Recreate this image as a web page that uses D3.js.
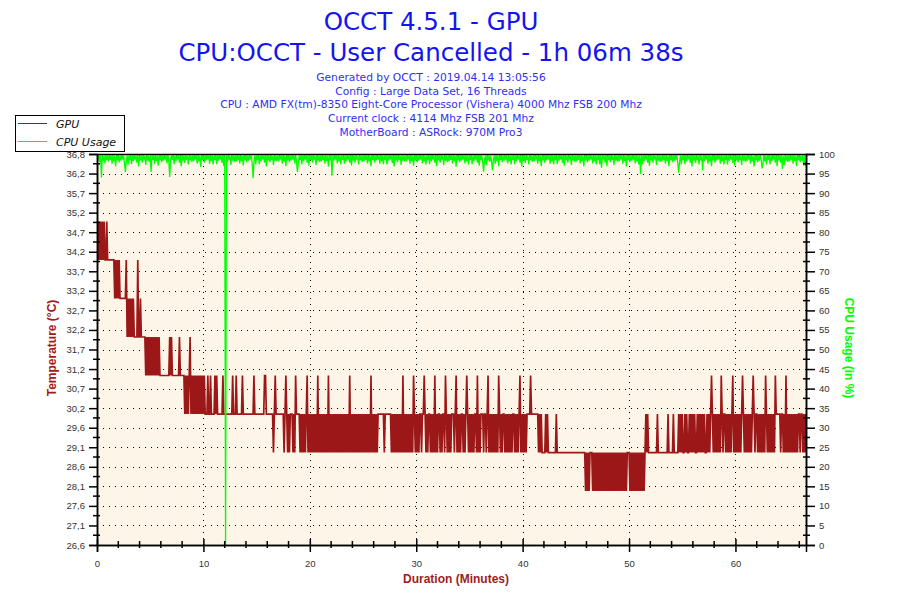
<!DOCTYPE html>
<html>
<head>
<meta charset="utf-8">
<script src="https://cdn.jsdelivr.net/npm/d3@7"></script>
<style>
body { margin: 0; background: #fff; }
svg { display: block; }
</style>
</head>
<body>
<svg id="chart"></svg>
<script>
var width = 900;
var height = 600;
var plotLeft = 97, plotRight = 806, plotTop = 154, plotBottom = 545;
var gpuColor = "#9c1818";
var cpuColor = "#00ff00";

var titleLines = ["OCCT 4.5.1 - GPU", "CPU:OCCT - User Cancelled - 1h 06m 38s"];
var infoLines = [
    "Generated by OCCT : 2019.04.14 13:05:56",
    "Config : Large Data Set, 16 Threads",
    "CPU : AMD FX(tm)-8350 Eight-Core Processor (Vishera) 4000 Mhz FSB 200 Mhz",
    "Current clock : 4114 Mhz FSB 201 Mhz",
    "MotherBoard : ASRock: 970M Pro3"
];
var seriesNames = ["GPU", "CPU Usage"];

var durationMin = 66.63; //1h 06m 38s

var tempRange = [26.6, 36.75];
var tempTickLabels = ["26,6", "27,1", "27,6", "28,1", "28,6", "29,1", "29,6", "30,2", "30,7", "31,2", "31,7",
    "32,2", "32,7", "33,2", "33,7", "34,2", "34,7", "35,2", "35,7", "36,2", "36,8"];
var cpuTicks = [0, 5, 10, 15, 20, 25, 30, 35, 40, 45, 50, 55, 60, 65, 70, 75, 80, 85, 90, 95, 100];
var minuteTicks = [0, 10, 20, 30, 40, 50, 60];

//Both series: one value every 5 s, one row per minute.
var sampleSeconds = 5;

//GPU temperature (°C)
var gpuTemp = [
    "35 34 35 34 35 34 35 34 35 34 34 35", //0
    "34 34 34 34 34 34 34 34 33 34 33 34",
    "33 34 33 33 33 33 33 33 33 34 32 33",
    "32 33 32 33 32 33 32 32 32 32 34 32",
    "32 33 32 32 32 32 32 31 32 31 32 31",
    "32 31 32 31 32 31 32 31 32 31 32 31",
    "31 31 31 31 31 31 31 31 31 31 32 31",
    "32 31 31 31 31 31 31 31 31 32 31 31",
    "31 31 31 30 31 30 31 30 31 32 30 31",
    "30 31 30 31 30 31 30 31 30 31 30 31",
    "30 31 30 30 30 31 30 30 31 30 30 30", //10
    "30 31 30 31 30 30 30 30 30 30 31 30",
    "30 30 30 30 30 30 30 30 30 31 30 30",
    "30 31 30 30 30 30 30 30 31 30 30 30",
    "30 30 30 30 30 30 30 30 30 31 30 30",
    "30 30 30 30 30 30 30 30 30 31 31 30",
    "30 30 30 30 30 30 30 29 30 31 30 30",
    "30 30 30 30 30 30 30 29 30 31 30 29",
    "30 29 30 30 30 29 30 29 31 30 30 30",
    "30 29 30 29 30 29 30 29 30 31 29 30",
    "29 30 29 30 29 30 29 30 29 31 29 30", //20
    "29 30 29 30 29 30 29 30 29 31 29 30",
    "29 30 29 30 29 30 29 30 29 30 29 30",
    "29 30 29 30 29 30 29 30 29 31 29 30",
    "29 30 29 30 29 30 29 30 29 30 29 30",
    "29 30 29 30 29 30 29 30 29 31 29 30",
    "29 30 29 30 29 30 30 30 30 30 30 30",
    "29 30 30 30 30 30 30 30 29 30 29 30",
    "29 30 29 30 29 30 29 30 29 31 29 30",
    "29 30 29 30 29 30 29 30 29 31 30 29",
    "30 29 30 29 30 30 29 30 30 31 30 29", //30
    "30 29 30 30 29 30 29 30 29 31 29 30",
    "29 30 30 29 30 29 30 30 29 31 30 29",
    "30 29 30 29 30 30 30 29 30 31 29 30",
    "29 30 29 30 30 29 30 29 30 31 30 29",
    "30 29 30 29 30 29 30 30 29 31 29 30",
    "29 30 30 30 29 30 30 29 30 31 29 30",
    "29 30 29 30 29 30 29 30 29 31 30 29",
    "30 29 30 30 29 30 29 30 29 30 29 30",
    "29 30 30 29 30 29 30 29 30 31 29 30",
    "29 30 29 30 29 30 30 30 30 31 30 30", //40
    "30 30 30 30 30 30 29 30 29 30 29 29",
    "29 29 30 29 30 29 29 29 29 29 29 29",
    "29 29 30 29 29 29 29 29 29 29 29 29",
    "29 29 29 29 29 29 29 29 29 29 29 29",
    "29 29 29 29 29 29 29 29 29 29 29 28",
    "29 28 29 28 29 29 29 28 29 28 29 28",
    "29 28 29 28 29 28 29 28 29 28 29 28",
    "29 28 29 28 29 28 29 28 29 28 29 28",
    "29 28 29 28 29 28 29 28 29 28 29 29",
    "29 28 29 28 29 28 29 28 29 28 29 28", //50
    "29 28 29 28 29 28 29 30 29 30 29 29",
    "29 29 29 29 29 29 29 29 30 29 29 29",
    "29 29 29 29 29 29 29 29 30 29 29 29",
    "29 29 30 29 29 29 29 29 30 29 30 29",
    "30 29 29 30 29 30 29 29 30 29 30 29",
    "30 29 30 29 29 30 29 30 29 30 29 30",
    "29 30 29 29 30 29 30 29 30 31 30 29",
    "30 29 30 29 30 29 30 29 31 30 29 30",
    "30 29 30 29 30 29 30 29 30 31 29 30",
    "29 30 29 30 29 30 29 30 31 30 29 30", //60
    "29 30 29 30 29 30 29 30 31 30 29 30",
    "30 29 30 29 30 29 30 29 30 29 31 30",
    "29 30 29 30 29 30 29 30 29 31 30 30",
    "30 30 30 29 30 30 29 30 29 31 29 30",
    "29 30 29 30 29 30 29 30 29 30 29 30",
    "30 29 30 30 29 30 29 30 29"
];

//CPU usage (%)
var cpuUsage = [
    "99.2 98.6 99.7 97.9 99.6 94.0 99.7 98.3 99.6 97.6 99.7 98.4", //0
    "99.6 98.1 99.7 98.5 99.6 97.5 99.7 98.2 99.5 96.9 99.7 98.4",
    "99.7 97.9 99.6 98.3 99.7 98.6 99.6 97.6 95.4 98.1 99.6 97.3",
    "99.6 98.5 99.7 97.4 99.6 98.2 99.7 98.6 99.6 97.8 99.7 96.8",
    "99.7 98.4 99.6 97.8 99.7 98.6 99.5 97.2 99.7 98.3 99.6 98.0",
    "99.6 95.4 99.7 98.5 99.6 97.5 99.7 98.2 99.5 97.0 99.7 98.4",
    "99.7 97.9 99.6 98.3 99.7 98.6 99.6 97.6 99.7 98.1 94.1 98.7",
    "99.6 98.5 99.7 97.4 99.6 98.2 99.7 98.6 99.6 97.8 99.7 96.9",
    "99.7 98.3 99.6 97.7 99.7 98.5 99.5 97.3 99.7 98.4 99.6 98.0",
    "99.6 98.2 99.7 98.6 99.6 97.5 99.7 98.1 99.5 96.7 99.7 98.4",
    "99.7 97.8 99.6 98.4 99.7 98.6 99.6 97.5 99.7 98.2 99.6 97.3", //10
    "99.6 98.5 99.7 97.4 99.6 98.3 99.7 98.6 99.6 97.7 99.7 96.9",
    "99.7 0 99.6 97.8 99.7 98.6 99.5 97.2 99.7 98.3 99.6 98.0",
    "99.6 98.1 99.7 98.5 99.6 97.6 99.7 98.2 99.5 97.1 99.7 98.4",
    "99.7 97.9 99.6 98.3 99.7 98.6 99.6 97.6 93.8 98.1 99.6 97.3",
    "99.6 98.5 99.7 97.4 99.6 98.2 99.7 98.6 99.6 97.8 99.7 96.8",
    "99.7 98.4 99.6 97.9 99.7 98.5 99.5 97.2 99.7 98.3 99.6 98.1",
    "99.6 98.1 99.7 98.6 99.6 97.5 99.7 98.2 99.5 96.9 99.7 98.4",
    "99.7 97.9 99.6 98.3 99.7 98.6 99.6 97.6 99.7 98.1 95.4 97.3",
    "99.6 98.5 99.7 97.4 99.6 98.2 99.7 98.6 99.6 97.8 99.7 97.0",
    "99.7 98.4 99.6 97.8 99.7 98.6 99.5 97.2 99.7 98.3 99.6 98.0", //20
    "99.6 98.1 99.7 98.5 99.6 97.5 99.7 98.2 99.5 96.8 99.7 98.4",
    "99.7 94.5 99.6 98.3 99.7 98.6 99.6 97.6 99.7 98.1 99.6 97.3",
    "99.6 98.5 99.7 97.5 99.6 98.2 99.7 98.6 99.6 97.8 99.7 97.1",
    "99.7 98.3 99.6 97.8 99.7 98.6 99.5 97.3 99.7 98.4 99.6 98.0",
    "99.6 98.2 99.7 98.5 99.6 97.6 99.7 98.1 99.5 96.9 99.7 98.5",
    "99.7 97.8 99.6 98.4 99.7 98.6 99.6 97.5 99.7 98.2 99.6 97.4",
    "99.6 98.5 99.7 97.3 99.6 98.3 99.7 98.6 99.6 97.7 99.7 96.8",
    "99.7 98.4 99.6 97.9 99.7 98.5 99.5 97.2 99.7 98.3 99.6 98.1",
    "99.6 98.1 99.7 98.6 99.6 97.5 99.7 98.2 99.5 97.0 99.7 98.4",
    "99.7 97.9 99.6 98.3 99.7 98.6 99.6 97.6 99.7 98.1 99.6 97.3", //30
    "99.6 98.5 99.7 97.4 99.6 98.2 99.7 98.6 99.6 97.8 99.7 96.9",
    "99.7 98.4 99.6 97.8 99.7 98.6 99.5 97.2 99.7 98.3 99.6 98.0",
    "99.6 98.1 99.7 98.5 99.6 97.5 99.7 98.2 99.5 96.8 99.7 98.4",
    "99.7 97.9 99.6 98.3 99.7 98.6 99.6 97.6 99.7 98.1 99.6 97.3",
    "99.6 98.5 99.7 97.4 99.6 98.2 99.7 98.6 99.6 97.8 99.7 97.0",
    "99.7 98.4 99.6 97.8 95.5 98.6 99.5 97.2 99.7 98.3 99.6 98.0",
    "99.6 98.1 95.8 98.5 99.6 97.5 99.7 98.2 99.5 96.9 99.7 98.4",
    "99.7 97.9 99.6 98.3 99.7 98.6 99.6 97.6 99.7 98.1 99.6 97.3",
    "99.6 98.5 99.7 97.4 99.6 98.2 99.7 98.6 99.6 97.8 99.7 96.8",
    "99.7 98.3 99.6 97.7 99.7 98.5 99.5 97.3 99.7 98.4 99.6 98.0", //40
    "99.6 98.2 99.7 98.6 99.6 97.5 99.7 98.1 99.5 96.9 99.7 98.4",
    "99.7 97.8 99.6 98.4 99.7 98.6 99.6 97.5 99.7 98.2 99.6 97.3",
    "99.6 98.5 99.7 97.4 99.6 98.3 99.7 98.6 99.6 97.7 99.7 97.0",
    "99.7 98.4 99.6 97.8 99.7 98.6 99.5 97.2 99.7 98.3 99.6 98.0",
    "99.6 98.1 99.7 98.5 99.6 97.6 99.7 98.2 99.5 96.9 99.7 98.4",
    "99.7 97.9 99.6 98.3 99.7 98.6 99.6 97.6 99.7 98.1 99.6 97.3",
    "99.6 98.5 99.7 97.4 99.6 96.5 99.7 98.6 99.6 97.8 99.7 96.9",
    "99.7 98.4 99.6 97.9 99.7 98.5 99.5 97.2 99.7 98.3 99.6 98.1",
    "99.6 98.1 99.7 98.6 99.6 97.5 99.7 98.2 99.5 96.8 99.7 98.4",
    "99.7 97.9 99.6 98.3 99.7 98.6 99.6 97.6 99.7 98.1 99.6 97.3", //50
    "99.6 94.9 99.7 97.4 99.6 98.2 99.7 98.6 99.6 97.8 99.7 97.0",
    "99.7 98.4 99.6 97.8 99.7 98.6 99.5 97.2 99.7 98.3 99.6 98.0",
    "99.6 98.1 99.7 98.5 99.6 97.5 99.7 98.2 99.5 96.9 99.7 98.4",
    "99.7 97.9 99.6 98.3 99.7 98.6 99.6 97.6 95.2 98.1 99.6 97.3",
    "99.6 98.5 99.7 97.4 99.6 98.2 99.7 98.6 99.6 97.8 99.7 96.8",
    "99.7 98.3 99.6 97.7 99.7 98.5 99.5 97.3 99.7 98.4 99.6 95.8",
    "99.6 98.2 99.7 98.6 99.6 97.5 99.7 98.1 99.5 96.9 99.7 98.4",
    "99.7 97.8 99.6 98.4 99.7 98.6 99.6 97.5 99.7 98.2 99.6 97.3",
    "99.6 98.5 99.7 97.3 99.6 98.3 99.7 98.6 99.6 97.7 99.7 97.0",
    "99.7 98.4 99.6 97.9 99.7 98.5 99.5 97.2 99.7 98.3 99.6 98.1", //60
    "99.6 98.1 99.7 98.6 99.6 97.5 99.7 98.2 99.5 96.8 99.7 98.4",
    "99.7 97.9 99.6 98.3 99.7 98.6 96.3 97.6 99.7 98.1 99.6 97.3",
    "99.6 98.5 99.7 97.4 99.6 98.2 99.7 98.6 99.6 97.8 99.7 96.9",
    "99.7 98.4 99.6 97.8 99.7 96.2 99.5 97.2 99.7 98.3 99.6 98.0",
    "99.6 98.1 99.7 98.5 99.6 97.5 99.7 98.2 99.5 96.9 99.7 98.4",
    "99.7 97.9 99.6 98.3 99.7 97.0 99.6 97.2 96.8"
];

//Turns the rows into [minute, value] points.
function toPoints(rows){
    var values = rows.join(" ").split(" ").map(Number);
    return values.map(function(v, i){ return [i * sampleSeconds / 60, v]; });
}

function buildChart(){
    var svg = d3.select("#chart")
        .attr("width", width)
        .attr("height", height)
        .style("font-family", "'Liberation Sans', Arial, sans-serif");

    var x = d3.scaleLinear().domain([0, durationMin]).range([plotLeft, plotRight]);
    var yTemp = d3.scaleLinear().domain(tempRange).range([plotBottom, plotTop]);
    var yCpu = d3.scaleLinear().domain([0, 100]).range([plotBottom, plotTop]);

    //Temperature ticks sit at the same heights as the CPU ticks.
    var tempTicks = cpuTicks.map(function(c){ return yTemp.invert(yCpu(c)); });

    //Titles
    svg.selectAll("text.title").data(titleLines).enter().append("text")
        .attr("class", "title")
        .attr("x", 431)
        .attr("y", function(d, i){ return 30 + i * 31; })
        .attr("text-anchor", "middle")
        .style("font-family", "'DejaVu Sans', sans-serif")
        .style("font-size", "24.5px")
        .attr("fill", "#1414f0")
        .text(function(d){ return d; });

    svg.selectAll("text.info").data(infoLines).enter().append("text")
        .attr("class", "info")
        .attr("x", 431)
        .attr("y", function(d, i){ return 81 + i * 13.7; })
        .attr("text-anchor", "middle")
        .style("font-family", "'DejaVu Sans', sans-serif")
        .style("font-size", "10.7px")
        .attr("fill", "#3030f0")
        .text(function(d){ return d; });

    //Plot background
    svg.append("rect")
        .attr("x", plotLeft).attr("y", plotTop)
        .attr("width", plotRight - plotLeft).attr("height", plotBottom - plotTop)
        .attr("fill", "#fdf6e8");

    //Dotted grid
    var grid = svg.append("g").attr("stroke", "#000").attr("stroke-dasharray", "1,5").attr("stroke-width", 1);
    grid.selectAll("line.h").data(cpuTicks.slice(1, -1)).enter().append("line")
        .attr("x1", plotLeft).attr("x2", plotRight)
        .attr("y1", function(d){ return Math.round(yCpu(d)) + 0.5; })
        .attr("y2", function(d){ return Math.round(yCpu(d)) + 0.5; });
    grid.selectAll("line.v").data(minuteTicks.slice(1)).enter().append("line")
        .attr("y1", plotTop).attr("y2", plotBottom)
        .attr("x1", function(d){ return Math.round(x(d)) + 0.5; })
        .attr("x2", function(d){ return Math.round(x(d)) + 0.5; });

    //Series
    svg.append("clipPath").attr("id", "plotClip").append("rect")
        .attr("x", plotLeft).attr("y", plotTop)
        .attr("width", plotRight - plotLeft).attr("height", plotBottom - plotTop);

    var gpuLine = d3.line()
        .x(function(d){ return x(d[0]); })
        .y(function(d){ return yTemp(d[1]); });
    var cpuLine = d3.line()
        .x(function(d){ return x(d[0]); })
        .y(function(d){ return yCpu(d[1]); });

    svg.append("path")
        .datum(toPoints(gpuTemp))
        .attr("clip-path", "url(#plotClip)")
        .attr("fill", "none")
        .attr("stroke", gpuColor)
        .attr("stroke-width", 1.7)
        .attr("d", gpuLine);

    svg.append("path")
        .datum(toPoints(cpuUsage))
        .attr("clip-path", "url(#plotClip)")
        .attr("fill", "none")
        .attr("stroke", cpuColor)
        .attr("stroke-width", 1.3)
        .attr("d", cpuLine);

    //Plot frame
    svg.append("rect")
        .attr("x", plotLeft + 0.5).attr("y", plotTop + 0.5)
        .attr("width", plotRight - plotLeft).attr("height", plotBottom - plotTop)
        .attr("fill", "none").attr("stroke", "#000").attr("stroke-width", 1.5);

    //Axes
    var leftAxis = svg.append("g")
        .attr("transform", "translate(" + plotLeft + ",0)")
        .call(d3.axisLeft(yTemp).tickValues(tempTicks)
            .tickFormat(function(d, i){ return tempTickLabels[i]; })
            .tickSize(8).tickPadding(4));
    var rightAxis = svg.append("g")
        .attr("transform", "translate(" + plotRight + ",0)")
        .call(d3.axisRight(yCpu).tickValues(cpuTicks).tickSize(9).tickPadding(4));
    var bottomAxis = svg.append("g")
        .attr("transform", "translate(0," + plotBottom + ")")
        .call(d3.axisBottom(x).tickValues(minuteTicks).tickSize(7).tickPadding(8));
    bottomAxis.selectAll(".tick line").attr("y1", -6);

    [leftAxis, rightAxis, bottomAxis].forEach(function(a){
        a.select(".domain").attr("stroke-width", 1.5);
        a.selectAll(".tick line").attr("stroke-width", 1.5);
        a.selectAll("text")
            .style("font-family", "'Liberation Sans', Arial, sans-serif")
            .style("font-size", "9.5px")
            .attr("fill", "#333");
    });

    //Minor ticks
    var minor = svg.append("g").attr("stroke", "#000").attr("stroke-width", 1.5);
    minor.selectAll("line.l").data(cpuTicks.slice(1)).enter().append("line")
        .attr("x1", plotLeft - 4).attr("x2", plotLeft + 3)
        .attr("y1", function(d){ return yCpu(d - 2.5); })
        .attr("y2", function(d){ return yCpu(d - 2.5); });
    minor.selectAll("line.r").data(cpuTicks.slice(1)).enter().append("line")
        .attr("x1", plotRight - 3).attr("x2", plotRight + 4)
        .attr("y1", function(d){ return yCpu(d - 2.5); })
        .attr("y2", function(d){ return yCpu(d - 2.5); });
    var minorMinutes = d3.range(2, durationMin, 2).filter(function(m){ return m % 10 !== 0; });
    minor.selectAll("line.b").data(minorMinutes).enter().append("line")
        .attr("x1", function(d){ return x(d); }).attr("x2", function(d){ return x(d); })
        .attr("y1", plotBottom - 4).attr("y2", plotBottom + 3);

    //Axis titles
    svg.append("text")
        .attr("transform", "translate(56,348) rotate(-90)")
        .attr("text-anchor", "middle")
        .style("font-size", "12px").style("font-weight", "bold")
        .attr("fill", "#a01c1c")
        .text("Temperature (°C)");
    svg.append("text")
        .attr("transform", "translate(845,348) rotate(90)")
        .attr("text-anchor", "middle")
        .style("font-size", "12px").style("font-weight", "bold")
        .attr("fill", cpuColor)
        .text("CPU Usage (in %)");
    svg.append("text")
        .attr("x", 456).attr("y", 583)
        .attr("text-anchor", "middle")
        .style("font-size", "12px").style("font-weight", "bold")
        .attr("fill", "#a01c1c")
        .text("Duration (Minutes)");

    //Legend (drawn last, it covers the top temperature label)
    var legend = svg.append("g");
    legend.append("rect")
        .attr("x", 15.5).attr("y", 115.5).attr("width", 109).attr("height", 36)
        .attr("fill", "#fff").attr("stroke", "#000");
    var colors = [gpuColor, cpuColor];
    seriesNames.forEach(function(name, i){
        legend.append("line")
            .attr("x1", 18).attr("x2", 47)
            .attr("y1", 123.5 + i * 18).attr("y2", 123.5 + i * 18)
            .attr("stroke", colors[i]);
        legend.append("text")
            .attr("x", 56).attr("y", 127.5 + i * 18)
            .style("font-family", "'DejaVu Sans', sans-serif")
            .style("font-size", "11px").style("font-style", "italic")
            .attr("fill", "#111")
            .text(name);
    });
}

buildChart();
</script>
</body>
</html>
